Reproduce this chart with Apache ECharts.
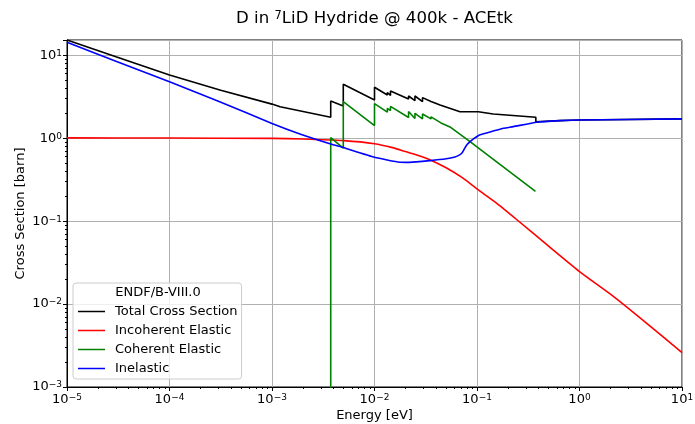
<!DOCTYPE html>
<html>
<head>
<meta charset="utf-8">
<title>D in 7LiD Hydride</title>
<script src="https://cdn.jsdelivr.net/npm/echarts@6/dist/echarts.min.js"></script>
<style>
	html, body { margin: 0; padding: 0; background: #fff; }
	#chart { width: 695px; height: 424px; }
</style>
</head>
<body>
<div id="chart"></div>
<script>
// series names, in legend order
const seriesNames = [
	"Total Cross Section",
	"Incoherent Elastic",
	"Coherent Elastic",
	"Inelastic",
];

// [energy (eV), cross section (barn)]
const totalXS = [
	[1e-5, 15.3], [3e-5, 9.6], [1e-4, 5.8], [3.16e-4, 3.8], [1e-3, 2.58],
	[1.2e-3, 2.4], [3.74e-3, 1.79], [3.74e-3, 2.81], [4.96e-3, 2.45],
	[4.96e-3, 4.47], [1e-2, 2.89], [1e-2, 4.12], [1.334e-2, 3.32],
	[1.334e-2, 3.56], [1.432e-2, 3.28], [1.432e-2, 3.71], [2.15e-2, 2.97],
	[2.15e-2, 3.23], [2.48e-2, 2.84], [2.48e-2, 3.23], [2.94e-2, 2.76],
	[2.94e-2, 3.09], [3.56e-2, 2.77], [3.56e-2, 2.89], [4.36e-2, 2.52],
	[6.83e-2, 2.09], [0.103, 2.09], [0.144, 1.96], [0.375, 1.79],
	[0.375, 1.58], [0.645, 1.63], [1, 1.66], [10, 1.71],
];

const incoherentXS = [
	[1e-5, 1.01], [1e-4, 1.005], [1e-3, 0.995], [2e-3, 0.98], [5e-3, 0.935],
	[1e-2, 0.86], [1.5e-2, 0.77], [2e-2, 0.69], [2.5e-2, 0.635],
	[3.5e-2, 0.548], [5e-2, 0.44], [7.3e-2, 0.33], [0.1, 0.245],
	[0.155, 0.165], [0.245, 0.104], [0.48, 0.052], [1, 0.0247],
	[2.14, 0.0124], [4.5, 0.0059], [10, 0.0026],
];

// zero below the first Bragg edge; 1e-6 stands in for it on the log axis
const coherentXS = [
	[3.74e-3, 1e-6], [3.74e-3, 1.017], [4.96e-3, 0.758], [4.96e-3, 2.76],
	[1e-2, 1.42], [1e-2, 2.62], [1.334e-2, 2.06], [1.334e-2, 2.29],
	[1.432e-2, 2.16], [1.432e-2, 2.42], [2.15e-2, 1.78], [2.15e-2, 2.1],
	[2.48e-2, 1.73], [2.48e-2, 2.0], [2.94e-2, 1.71], [2.94e-2, 1.96],
	[3.56e-2, 1.71], [3.56e-2, 1.81], [4.45e-2, 1.53], [4.45e-2, 1.59],
	[5.45e-2, 1.37], [5.45e-2, 1.41], [8.55e-2, 0.91], [0.372, 0.229],
];

const inelasticXS = [
	[1e-5, 14.4], [3e-5, 8.5], [1e-4, 4.8], [3e-4, 2.79], [1e-3, 1.51],
	[1.9e-3, 1.12], [3.74e-3, 0.853], [4.96e-3, 0.771], [1e-2, 0.59],
	[1.77e-2, 0.514], [2.2e-2, 0.512], [3.5e-2, 0.537], [5e-2, 0.565],
	[6.1e-2, 0.595], [6.7e-2, 0.625], [7.2e-2, 0.675], [7.6e-2, 0.76],
	[8e-2, 0.84], [8.55e-2, 0.91], [9.3e-2, 0.99], [0.1, 1.05], [0.107, 1.1],
	[0.144, 1.22], [0.181, 1.32], [0.226, 1.38], [0.382, 1.56],
	[0.645, 1.63], [1, 1.66], [10, 1.71],
];

const font = "DejaVu Sans";

// 10^n tick labels with the exponent raised
function powLabel(value) {
	let e = Math.round(Math.log10(value));
	let exp = e < 0 ? "\u2212" + -e : "" + e;
	return "{b|10}{s|" + exp + "}";
}
const powRich = {
	b: { fontSize: 13, fontFamily: font, color: "#000" },
	s: { fontSize: 9, fontFamily: font, color: "#000", verticalAlign: "top" },
};

let chart = echarts.init(document.getElementById("chart"));
chart.setOption({
	animation: false,
	title: {
		text: "D in {s|7}LiD Hydride @ 400k - ACEtk",
		left: 231,
		top: 5,
		textStyle: {
			fontSize: 16.6,
			fontWeight: "normal",
			fontFamily: font,
			color: "#000",
			rich: {
				s: { fontSize: 11.5, fontFamily: font, color: "#000", verticalAlign: "top" },
			},
		},
	},
	grid: {
		left: 67,
		right: 13,
		top: 40,
		bottom: 37,
		outerBoundsMode: "none",
		show: true,
		borderColor: "#000",
		borderWidth: 1,
	},
	legend: {
		orient: "vertical",
		left: 73,
		top: 283,
		padding: [22, 4, 4, 5],
		itemWidth: 27,
		itemHeight: 1.5,
		itemGap: 6,
		icon: "rect",
		backgroundColor: "rgba(255,255,255,0.8)",
		borderColor: "#cccccc",
		borderWidth: 1,
		borderRadius: 3,
		textStyle: { fontSize: 13, fontFamily: font, color: "#000", padding: [0, 0, 0, 5] },
		data: seriesNames,
	},
	graphic: [
		{
			type: "text",
			x: 158,
			y: 293,
			z: 100,
			style: {
				text: "ENDF/B-VIII.0",
				align: "center",
				verticalAlign: "middle",
				fontSize: 13,
				fontFamily: font,
				fill: "#000",
			},
		},
	],
	xAxis: {
		type: "log",
		logBase: 10,
		min: 1e-5,
		max: 10,
		name: "Energy [eV]",
		nameLocation: "middle",
		nameGap: 22,
		nameMoveOverlap: false,
		nameTextStyle: { fontSize: 13, fontFamily: font, color: "#000" },
		axisLine: { show: true, lineStyle: { color: "#000" } },
		axisTick: { show: true, inside: false, length: 4, lineStyle: { color: "#000" } },
		minorTick: { show: true, splitNumber: 9, length: 2, lineStyle: { color: "#000" } },
		axisLabel: { formatter: powLabel, rich: powRich, margin: 6 },
		splitLine: { show: true, lineStyle: { color: "#b0b0b0", width: 1 } },
	},
	yAxis: {
		type: "log",
		logBase: 10,
		min: 1e-3,
		max: 15.3,
		name: "Cross Section [barn]",
		nameLocation: "middle",
		nameGap: 40,
		nameMoveOverlap: false,
		nameTextStyle: { fontSize: 13, fontFamily: font, color: "#000" },
		axisLine: { show: true, lineStyle: { color: "#000" } },
		axisTick: { show: true, inside: false, length: 4, lineStyle: { color: "#000" } },
		minorTick: { show: true, splitNumber: 9, length: 2, lineStyle: { color: "#000" } },
		axisLabel: { formatter: powLabel, rich: powRich, margin: 5, showMaxLabel: false },
		splitLine: { show: true, lineStyle: { color: "#b0b0b0", width: 1 } },
	},
	series: [
		{ name: seriesNames[0], type: "line", data: totalXS, color: "#000000" },
		{ name: seriesNames[1], type: "line", data: incoherentXS, color: "#ff0000", smooth: 0.2 },
		{ name: seriesNames[2], type: "line", data: coherentXS, color: "#008000" },
		{ name: seriesNames[3], type: "line", data: inelasticXS, color: "#0000ff", smooth: 0.15 },
	].map(function (s) {
		s.showSymbol = false;
		s.symbol = "none";
		s.clip = true;
		s.lineStyle = { width: 1.6, color: s.color };
		return s;
	}),
});
</script>
</body>
</html>
